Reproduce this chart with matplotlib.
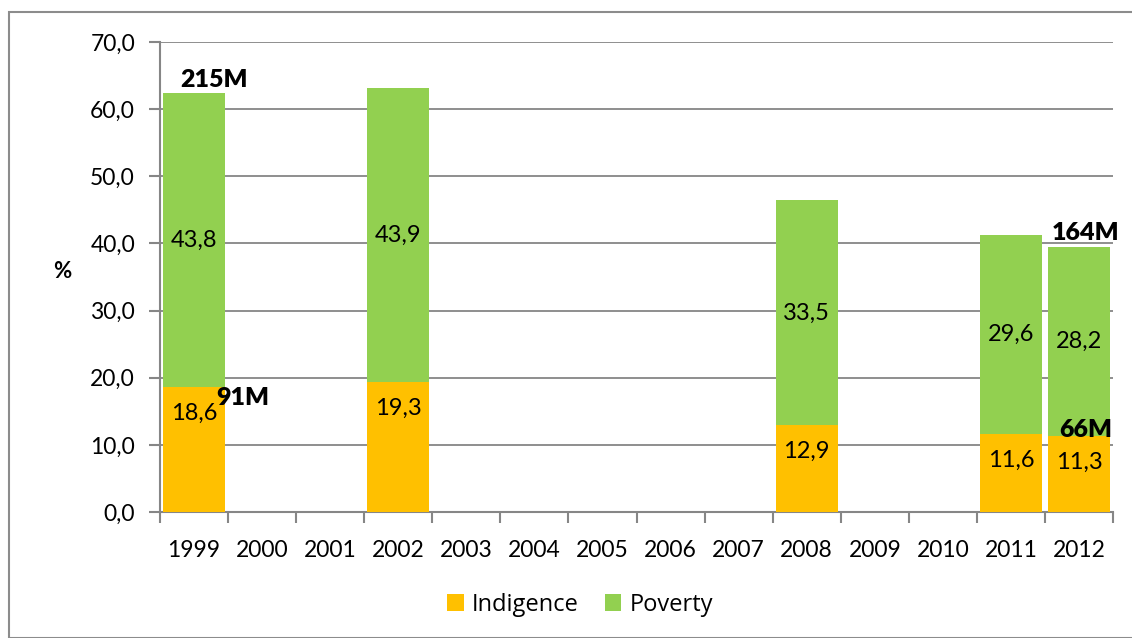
import matplotlib
matplotlib.use("Agg")
import matplotlib.pyplot as plt
import numpy as np
from matplotlib.patches import Rectangle

years = ["1999", "2000", "2001", "2002", "2003", "2004", "2005", "2006",
         "2007", "2008", "2009", "2010", "2011", "2012"]
indigence = [18.6, np.nan, np.nan, 19.3, np.nan, np.nan, np.nan, np.nan,
             np.nan, 12.9, np.nan, np.nan, 11.6, 11.3]
poverty = [43.8, np.nan, np.nan, 43.9, np.nan, np.nan, np.nan, np.nan,
           np.nan, 33.5, np.nan, np.nan, 29.6, 28.2]
yticks = [0, 10, 20, 30, 40, 50, 60, 70]
# people annotations: (category index, anchor segment, text)
people = [(0, "top", "215M"), (0, "ind", "91M"), (13, "top", "164M"), (13, "ind", "66M")]
# label offsets (dx in categories, dy in data units) – layout only
people_offsets = [(0.29, 1.9), (0.72, -1.6), (0.1, 2.1), (0.1, 0.9)]

C_IND = "#FFC000"
C_POV = "#92D050"
GRID = "#868686"
FONT = "Lato"

fig = plt.figure(figsize=(11.32, 6.38), dpi=100)
fig.patches.append(Rectangle((9 / 1132, 0.0), 1.2, 1 - 12 / 638, transform=fig.transFigure,
                             fill=False, edgecolor="#8c8c8c", linewidth=1.5, clip_on=False))
ax = fig.add_axes([160 / 1132, 1 - 512 / 638, (1113 - 160) / 1132, (512 - 42) / 638])

x = np.arange(len(years))
ind = np.array(indigence, dtype=float)
pov = np.array(poverty, dtype=float)
w = 0.91
ax.bar(x, ind, width=w, color=C_IND, label="Indigence", zorder=3)
ax.bar(x, pov, width=w, bottom=ind, color=C_POV, label="Poverty", zorder=3)

for i in range(len(years)):
    if np.isnan(ind[i]):
        continue
    ax.annotate(f"{ind[i]:.1f}".replace(".", ","), (x[i], ind[i]), xytext=(0, -19),
                textcoords="offset points", ha="center", va="center",
                fontsize=17, family=FONT, zorder=4)
    ax.text(x[i], ind[i] + pov[i] / 2, f"{pov[i]:.1f}".replace(".", ","),
            ha="center", va="center", fontsize=17, family=FONT, zorder=4)

for (i, where, txt), (dx, dy) in zip(people, people_offsets):
    yv = ind[i] + pov[i] if where == "top" else ind[i]
    ax.text(x[i] + dx, yv + dy, txt, fontsize=18, fontweight="heavy", family=FONT,
            ha="center", va="center", zorder=5)

ax.set_xlim(-0.5, len(years) - 0.5)
ax.set_ylim(0, 70)
ax.set_yticks(yticks)
ax.set_yticklabels([f"{v:.1f}".replace(".", ",") for v in yticks], family=FONT, fontsize=16.5)
ax.set_xticks(x)
ax.set_xticklabels(years, family=FONT, fontsize=16.5)
ax.set_xticks(np.arange(-0.5, len(years), 1.0), minor=True)
ax.tick_params(axis="x", which="major", length=0, pad=20)
ax.tick_params(axis="x", which="minor", length=8, color=GRID, width=1.5, direction="out")
ax.tick_params(axis="y", length=8, color=GRID, width=1.5, pad=10)
ax.grid(axis="y", color=GRID, linewidth=1.3, zorder=0)
for s in ["top", "right"]:
    ax.spines[s].set_visible(False)
for s in ["left", "bottom"]:
    ax.spines[s].set_color(GRID)
    ax.spines[s].set_linewidth(1.5)
ax.set_ylabel("%", rotation=0, fontsize=16, fontweight="bold", family=FONT, labelpad=0)
ax.yaxis.set_label_coords((62 - 160) / 953, (512 - 282) / 470, transform=ax.transAxes)

leg = fig.legend(loc="center", bbox_to_anchor=(580 / 1132, 1 - 605 / 638), ncol=2, frameon=False,
                 prop={"family": "Open Sans", "size": 17}, handlelength=0.7, handleheight=0.7,
                 handletextpad=0.35, columnspacing=1.1)

fig.savefig("out.png", dpi=100)
